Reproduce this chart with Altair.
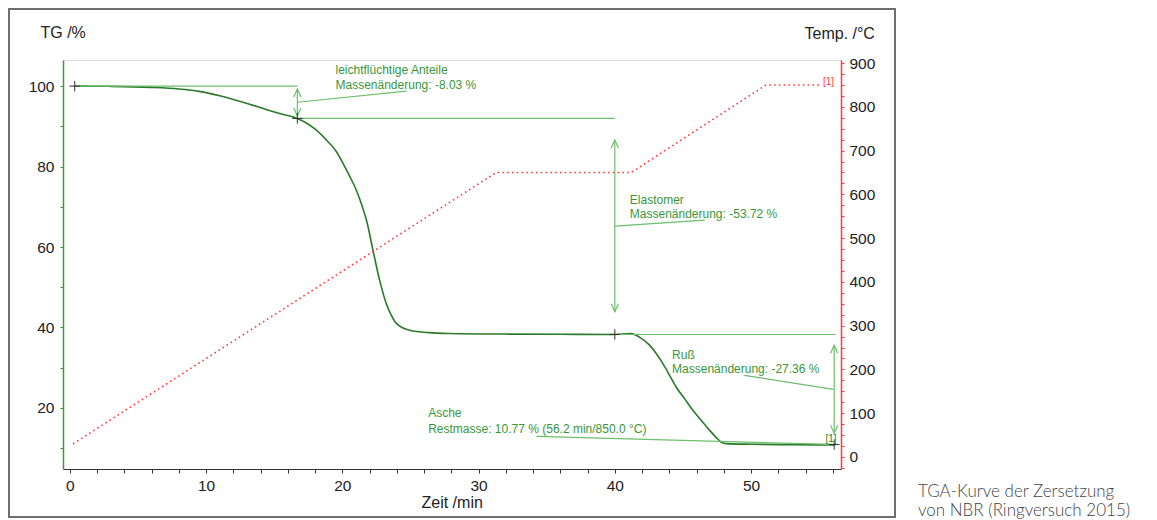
import altair as alt
import pandas as pd

# ---------------- data ----------------
tg_time = [0.3, 3.0, 6.0, 8.0, 9.5, 11.0, 12.0, 13.2, 14.4, 15.6, 16.7, 18.1, 18.83, 19.57,
           20.05, 20.54, 21.03, 21.52, 21.77, 22.25, 22.74, 23.23, 23.6, 23.97, 24.94, 26.4,
           27.9, 32.0, 36.0, 40.0, 41.2, 41.8, 42.55, 43.04, 43.53, 44.02, 44.5, 45.12,
           45.73, 46.34, 46.96, 47.45, 47.8, 48.18, 50.0, 53.0, 56.2]
tg_mass = [100.0, 99.95, 99.7, 99.3, 98.7, 97.6, 96.7, 95.5, 94.2, 93.0, 91.97, 89.05, 86.6, 83.7,
           80.8, 77.6, 74.1, 69.5, 66.7, 59.2, 51.7, 45.9, 43.0, 41.0, 39.3, 38.7,
           38.5, 38.35, 38.3, 38.25, 38.45, 37.6, 35.6, 33.5, 31.0, 28.1, 25.2, 22.3,
           19.4, 16.9, 14.4, 12.6, 11.5, 11.1, 10.95, 10.85, 10.77]

temp_time = [0.24, 31.3, 41.2, 51.1, 55.2]
temp_value = [30.0, 650.0, 650.0, 850.0, 850.0]

x_domain = [-0.5, 56.6]
tg_domain = [4.8, 106.5]
temp_domain = [-27.5, 907.0]

x_ticks = list(range(0, 57, 2))
tg_ticks = list(range(10, 101, 10))
temp_ticks = list(range(-25, 901, 25))

# annotation segments (time, TG) -> (time2, TG2)
seg_x1 = [0.36, 16.7, 16.7, 40.0, 40.0, 56.1, 56.05, 34.26]
seg_y1 = [100.0, 91.97, 96.0, 38.25, 65.2, 38.25, 24.6, 12.9]
seg_x2 = [16.7, 40.0, 24.7, 56.2, 46.6, 56.1, 49.5, 56.0]
seg_y2 = [100.0, 91.97, 98.76, 38.25, 66.7, 38.25, 28.1, 10.9]

# double-arrow shafts
arr_x = [16.7, 40.0, 56.1]
arr_top = [99.3, 86.6, 35.6]
arr_bot = [92.6, 43.9, 13.7]

# cross markers
mark_t = [0.36, 16.7, 40.0, 56.1]
mark_v = [100.0, 91.97, 38.25, 10.9]

# annotation text
txt_t = [19.5, 19.5, 41.1, 41.1, 44.2, 44.2, 26.3, 26.3]
txt_v = [104.0, 100.3, 71.6, 68.2, 33.1, 29.6, 18.7, 14.7]
txt_s = ["leichtflüchtige Anteile", "Massenänderung: -8.03 %",
         "Elastomer", "Massenänderung: -53.72 %",
         "Ruß", "Massenänderung: -27.36 %",
         "Asche", "Restmasse: 10.77 % (56.2 min/850.0 °C)"]

caption = ["TGA-Kurve der Zersetzung", "von NBR (Ringversuch 2015)"]

# ---------------- style ----------------
FONT = "Liberation Sans"
W, H = 778, 409
CURVE = "#2a7a2a"
ANN = "#6cbf6c"
TXT = "#3a963a"
RED = "#ff3b3b"

xs = alt.Scale(domain=x_domain, nice=False, zero=False)
ys = alt.Scale(domain=tg_domain, nice=False, zero=False)
ts = alt.Scale(domain=temp_domain, nice=False, zero=False)

tg_df = pd.DataFrame({"t": tg_time, "m": tg_mass})
temp_df = pd.DataFrame({"t": temp_time, "T": temp_value})
seg_df = pd.DataFrame({"x": seg_x1, "y": seg_y1, "x2": seg_x2, "y2": seg_y2})
arr_df = pd.DataFrame({"x": arr_x, "top": arr_top, "bot": arr_bot})
mark_df = pd.DataFrame({"t": mark_t, "v": mark_v})
txt_df = pd.DataFrame({"t": txt_t, "v": txt_v, "s": txt_s})

x_axis = alt.Axis(values=x_ticks, tickCount=100, format="d",
                  labelExpr="datum.value % 10 == 0 ? datum.label : ''",
                  labelOverlap=False,
                  title="Zeit /min", titleX=358, titleY=33, titleAlign="left",
                  titleBaseline="middle", titleFontWeight="normal", titleFontSize=16,
                  titleFont=FONT, titleColor="#222", labelFont=FONT, labelFontSize=15.5,
                  labelColor="#222", domainColor="#333", tickColor="#333", tickSize=4,
                  labelPadding=5, grid=False, labelFlush=False)

y_axis = alt.Axis(values=tg_ticks, tickCount=100, format="d",
                  labelExpr="datum.value % 20 == 0 ? datum.label : ''",
                  labelOverlap=False,
                  title="TG /%", titleAngle=0, titleX=-23, titleY=-28, titleAlign="left",
                  titleBaseline="middle", titleFontWeight="normal", titleFontSize=16,
                  titleFont=FONT, titleColor="#222", labelFont=FONT, labelFontSize=15.5,
                  labelColor="#222", domainColor="#3c9c3c", domainWidth=1.5,
                  tickColor="#3c9c3c", tickSize=3, labelPadding=6, grid=False)

t_axis = alt.Axis(values=temp_ticks, tickCount=100, format="d", orient="right", labelOverlap=False,
                  labelExpr="datum.value % 100 == 0 && datum.value >= 0 ? datum.label : ''",
                  title="Temp. /°C", titleAngle=0, titleX=-37, titleY=-27, titleAlign="left",
                  titleBaseline="middle", titleFontWeight="normal", titleFontSize=16,
                  titleFont=FONT, titleColor="#222", labelFont=FONT, labelFontSize=15.5,
                  labelColor="#222", domainColor=RED, domainWidth=1.5,
                  tickColor=RED, tickSize=3, labelPadding=5, grid=False)

X = lambda f: alt.X(f, scale=xs)
Y = lambda f: alt.Y(f, scale=ys)

tg_line = alt.Chart(tg_df).mark_line(color=CURVE, strokeWidth=1.6, interpolate="monotone").encode(
    x=alt.X("t:Q", scale=xs, axis=x_axis), y=alt.Y("m:Q", scale=ys, axis=y_axis))

segs = alt.Chart(seg_df).mark_rule(color=ANN, strokeWidth=1.2).encode(
    x=X("x:Q"), y=Y("y:Q"), x2="x2:Q", y2="y2:Q")

shafts = alt.Chart(arr_df).mark_rule(color=ANN, strokeWidth=1.2).encode(
    x=X("x:Q"), y=Y("top:Q"), y2="bot:Q")

head_up = alt.Chart(arr_df).mark_point(shape="M-0.45,1L0,0L0.45,1", size=256, filled=False,
                                       color=ANN, strokeWidth=1.2, opacity=1).encode(
    x=X("x:Q"), y=Y("top:Q"))

head_dn = alt.Chart(arr_df).mark_point(shape="M-0.45,-1L0,0L0.45,-1", size=256, filled=False,
                                       color=ANN, strokeWidth=1.2, opacity=1).encode(
    x=X("x:Q"), y=Y("bot:Q"))

crosses = alt.Chart(mark_df).mark_point(shape="M-1,0L1,0M0,-1L0,1", size=110, filled=False,
                                        color="#333", strokeWidth=1, opacity=1).encode(
    x=X("t:Q"), y=Y("v:Q"))

texts = alt.Chart(txt_df).mark_text(align="left", baseline="middle", font=FONT, fontSize=12,
                                    color=TXT).encode(
    x=X("t:Q"), y=Y("v:Q"), text="s:N")

tg_end = alt.Chart(pd.DataFrame({"t": [tg_time[-1]], "v": [tg_mass[-1]], "s": ["[1]"]})).mark_text(
    align="right", baseline="bottom", font=FONT, fontSize=10, color=CURVE, dx=1, dy=-1).encode(
    x=X("t:Q"), y=Y("v:Q"), text="s:N")

temp_line = alt.Chart(temp_df).mark_line(color=RED, strokeWidth=1.6, strokeDash=[1.6, 3.2]).encode(
    x=X("t:Q"), y=alt.Y("T:Q", scale=ts, axis=t_axis))

temp_end = alt.Chart(pd.DataFrame({"t": [temp_time[-1]], "T": [temp_value[-1]], "s": ["[1]"]})).mark_text(
    align="left", baseline="bottom", font=FONT, fontSize=10, color=RED, dx=1, dy=2).encode(
    x=X("t:Q"), y=alt.Y("T:Q", scale=ts), text="s:N")

frame = alt.Chart(pd.DataFrame({"a": [0]})).mark_rect(fill=None, stroke="#6e6e6e", strokeWidth=2).encode(
    x=alt.value(-54), x2=alt.value(832), y=alt.value(-51), y2=alt.value(457))

cap1 = alt.Chart(pd.DataFrame({"s": [caption[0]]})).mark_text(
    align="left", baseline="middle", font="Lato", fontSize=17, fontWeight=300, color="#444").encode(
    x=alt.value(855), y=alt.value(432), text="s:N")
cap2 = alt.Chart(pd.DataFrame({"s": [caption[1]]})).mark_text(
    align="left", baseline="middle", font="Lato", fontSize=17, fontWeight=300, color="#444").encode(
    x=alt.value(855), y=alt.value(451), text="s:N")

tg_layer = alt.layer(tg_line, segs, shafts, head_up, head_dn, crosses, texts, tg_end)
temp_layer = alt.layer(temp_line, temp_end)

chart = alt.layer(tg_layer, temp_layer, frame, cap1, cap2).resolve_scale(y="independent").properties(
    width=W, height=H,
    autosize=alt.AutoSizeParams(type="none"),
    padding={"left": 55, "top": 52, "right": 308, "bottom": 52},
).configure_view(stroke="transparent", strokeWidth=0).configure_axis(
    labelOverlap=False, labelBound=False
).configure(background="white")

chart.save("out.html", embed_options={"renderer": "svg", "actions": False})
